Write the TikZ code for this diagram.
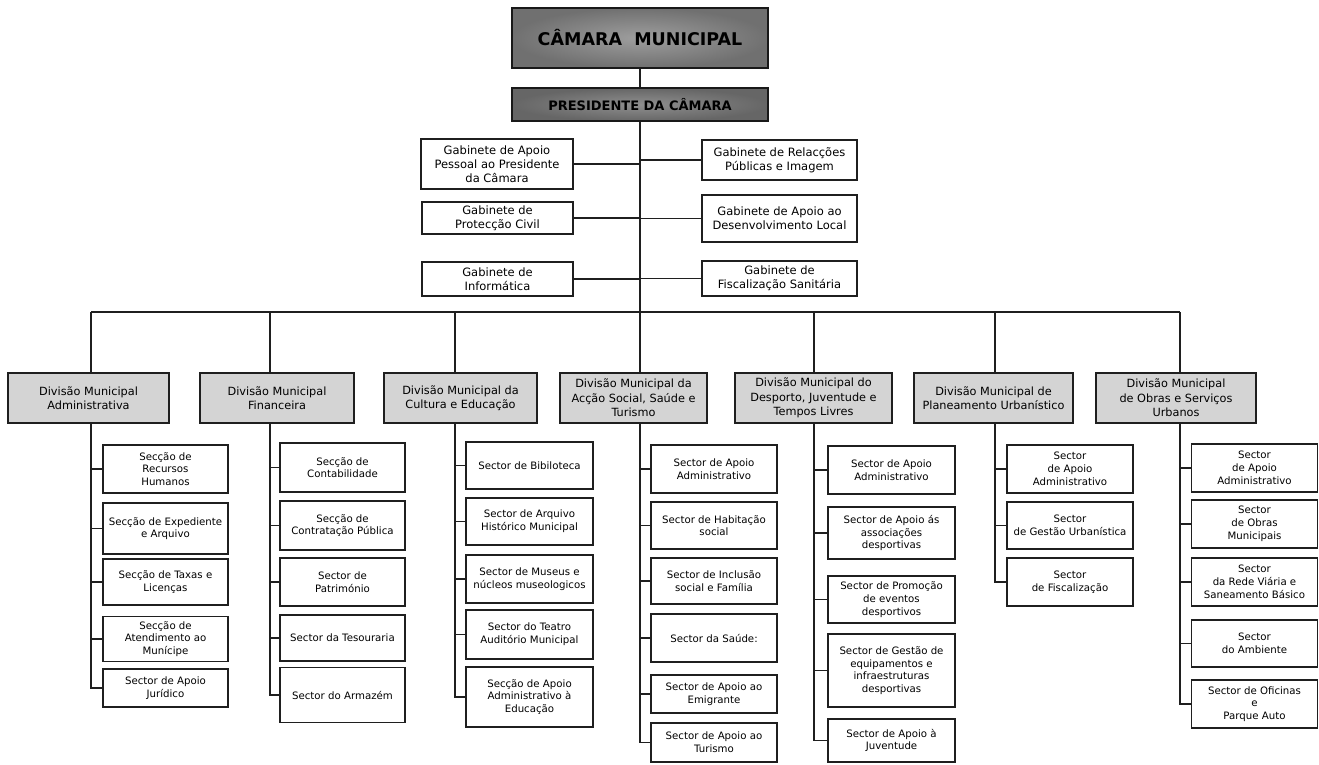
\documentclass[tikz,border=0pt]{standalone}
\usepackage{fontspec}
\setmainfont{DejaVu Sans}

\tikzset{
  orgline/.style={line width=1.4pt, draw=black!88},
  sz/.style 2 args={minimum width=#1, minimum height=#2},
  topbox/.style={draw=black!90, line width=1.6pt, shading=radial, align=center, inner sep=0pt},
  gabbox/.style={draw=black!88, line width=1.4pt, fill=white, align=center, inner sep=0pt, font=\fontsize{11.5}{14}\selectfont},
  divbox/.style={draw=black!88, line width=1.4pt, fill=black!17, align=center, inner sep=0pt, font=\fontsize{11.3}{14.5}\selectfont},
  secbox/.style={draw=black!88, line width=1.4pt, fill=white, align=center, inner sep=0pt, font=\fontsize{10.2}{12.8}\selectfont},
}

\begin{document}
\begin{tikzpicture}[x=1pt, y=-1pt]
\useasboundingbox (0,0) rectangle (1319,764);

% Top
\node[topbox, inner color=black!38, outer color=black!56, sz={256}{60}, font=\bfseries\fontsize{17.5}{20}\selectfont] (camara) at (640,38) {CÂMARA\ \ MUNICIPAL};
\node[topbox, inner color=black!44, outer color=black!60, sz={256}{33}, font=\bfseries\fontsize{13}{15}\selectfont] (presidente) at (640,104.5) {PRESIDENTE DA CÂMARA};

% Gabinetes
\node[gabbox, sz={152}{50}] (gapoio) at (497,164) {Gabinete de Apoio\\Pessoal ao Presidente\\da Câmara};
\node[gabbox, sz={151}{32}] (gcivil) at (497.5,218) {Gabinete de\\Protecção Civil};
\node[gabbox, sz={151}{34}] (ginfo) at (497.5,279) {Gabinete de\\Informática};
\node[gabbox, sz={155}{40}] (grelac) at (779.5,160) {Gabinete de Relacções\\Públicas e Imagem};
\node[gabbox, sz={155}{47}] (gdesenv) at (779.5,218.5) {Gabinete de Apoio ao\\Desenvolvimento Local};
\node[gabbox, sz={155}{35}] (gfisc) at (779.5,278.5) {Gabinete de\\Fiscalização Sanitária};

% Divisoes
\node[divbox, sz={161}{50}] (d1) at (88.5,398) {Divisão Municipal\\Administrativa};
\node[divbox, sz={154}{50}] (d2) at (277,398) {Divisão Municipal\\Financeira};
\node[divbox, sz={153}{50}] (d3) at (460.5,398) {Divisão Municipal da\\Cultura e Educação};
\node[divbox, sz={147}{50}] (d4) at (633.5,398) {Divisão Municipal da\\Acção Social, Saúde e\\Turismo};
\node[divbox, sz={157}{50}] (d5) at (813.5,398) {Divisão Municipal do\\Desporto, Juventude e\\Tempos Livres};
\node[divbox, sz={159}{50}] (d6) at (993.5,398) {Divisão Municipal de\\Planeamento Urbanístico};
\node[divbox, sz={160}{50}] (d7) at (1176,398) {Divisão Municipal\\de Obras e Serviços\\Urbanos};

% Seccoes e sectores
\node[secbox, sz={125}{48}] (c1a) at (165.5,469) {Secção de\\Recursos\\Humanos};
\node[secbox, sz={125}{51}] (c1b) at (165.5,528.5) {Secção de Expediente\\e Arquivo};
\node[secbox, sz={125}{46}] (c1c) at (165.5,582) {Secção de Taxas e\\Licenças};
\node[secbox, sz={125}{45}] (c1d) at (165.5,639) {Secção de\\Atendimento ao\\Munícipe};
\node[secbox, sz={125}{38}] (c1e) at (165.5,688) {Sector de Apoio\\Jurídico};

\node[secbox, sz={125}{49}] (c2a) at (342.5,467.5) {Secção de\\Contabilidade};
\node[secbox, sz={125}{49}] (c2b) at (342.5,525.5) {Secção de\\Contratação Pública};
\node[secbox, sz={125}{48}] (c2c) at (342.5,582) {Sector de\\Património};
\node[secbox, sz={125}{46}] (c2d) at (342.5,638) {Sector da Tesouraria};
\node[secbox, sz={125}{55}] (c2e) at (342.5,695) {Sector do Armazém};

\node[secbox, sz={127}{47}] (c3a) at (529.5,465.5) {Sector de Bibiloteca};
\node[secbox, sz={127}{47}] (c3b) at (529.5,521.5) {Sector de Arquivo\\Histórico Municipal};
\node[secbox, sz={127}{48}] (c3c) at (529.5,579) {Sector de Museus e\\núcleos museologicos};
\node[secbox, sz={127}{49}] (c3d) at (529.5,634.5) {Sector do Teatro\\Auditório Municipal};
\node[secbox, sz={127}{60}] (c3e) at (529.5,697) {Secção de Apoio\\Administrativo à\\Educação};

\node[secbox, sz={126}{48}] (c4a) at (714,469) {Sector de Apoio\\Administrativo};
\node[secbox, sz={126}{47}] (c4b) at (714,525.5) {Sector de Habitação\\social};
\node[secbox, sz={126}{46}] (c4c) at (714,581) {Sector de Inclusão\\social e Família};
\node[secbox, sz={126}{48}] (c4d) at (714,638) {Sector da Saúde:};
\node[secbox, sz={126}{38}] (c4e) at (714,694) {Sector de Apoio ao\\Emigrante};
\node[secbox, sz={126}{39}] (c4f) at (714,742.5) {Sector de Apoio ao\\Turismo};

\node[secbox, sz={127}{48}] (c5a) at (891.5,470) {Sector de Apoio\\Administrativo};
\node[secbox, sz={127}{52}] (c5b) at (891.5,533) {Sector de Apoio ás\\associações\\desportivas};
\node[secbox, sz={127}{47}] (c5c) at (891.5,599.5) {Sector de Promoção\\de eventos\\desportivos};
\node[secbox, sz={127}{73}] (c5d) at (891.5,670.5) {Sector de Gestão de\\equipamentos e\\infraestruturas\\desportivas};
\node[secbox, sz={127}{43}] (c5e) at (891.5,740.5) {Sector de Apoio à\\Juventude};

\node[secbox, sz={126}{48}] (c6a) at (1070,469) {Sector\\de Apoio\\Administrativo};
\node[secbox, sz={126}{47}] (c6b) at (1070,525.5) {Sector\\de Gestão Urbanística};
\node[secbox, sz={126}{48}] (c6c) at (1070,582) {Sector\\de Fiscalização};

\node[secbox, sz={126}{48}] (c7a) at (1254.5,468) {Sector\\de Apoio\\Administrativo};
\node[secbox, sz={126}{48}] (c7b) at (1254.5,524) {Sector\\de Obras\\Municipais};
\node[secbox, sz={126}{48}] (c7c) at (1254.5,582) {Sector\\da Rede Viária e\\Saneamento Básico};
\node[secbox, sz={126}{47}] (c7d) at (1254.5,643.5) {Sector\\do Ambiente};
\node[secbox, sz={126}{48}] (c7e) at (1254.5,704) {Sector de Oficinas\\e\\Parque Auto};

% Lines
\coordinate (s1) at (91,312);
\coordinate (s2) at (270,312);
\coordinate (s3) at (455,312);
\coordinate (s4) at (640,312);
\coordinate (s5) at (814,312);
\coordinate (s6) at (995,312);
\coordinate (s7) at (1180,312);

\draw[orgline] (camara) -- (presidente);
\draw[orgline] (presidente.south) -- (s4);
\draw[orgline] (s1) -- (s7);
\foreach \g in {gapoio,gcivil,ginfo}
  \draw[orgline] (\g.east) -- (\g.east -| s4);
\foreach \g in {grelac,gdesenv,gfisc}
  \draw[orgline] (\g.west) -- (\g.west -| s4);

\foreach \k/\kids in {1/{a,b,c,d,e}, 2/{a,b,c,d,e}, 3/{a,b,c,d,e}, 4/{a,b,c,d,e,f}, 5/{a,b,c,d,e}, 6/{a,b,c}, 7/{a,b,c,d,e}}{
  \draw[orgline] (s\k) -- (s\k |- d\k.north);
  \foreach \j in \kids
    \draw[orgline] (s\k |- d\k.south) |- (c\k\j.west);
}

\end{tikzpicture}
\end{document}
